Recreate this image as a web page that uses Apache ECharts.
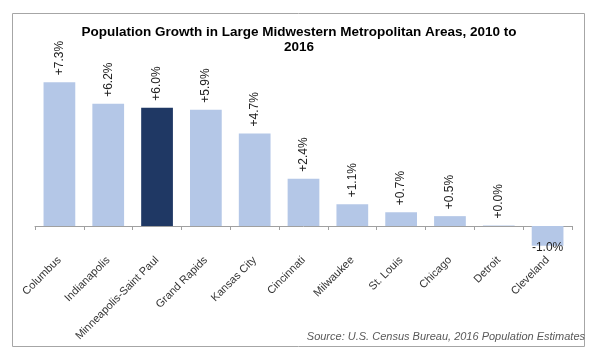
<!DOCTYPE html>
<html>
<head>
<meta charset="utf-8">
<script src="https://cdn.jsdelivr.net/npm/echarts@6/dist/echarts.min.js"></script>
<style>html,body{margin:0;padding:0;background:#fff}#c{width:600px;height:361px}</style>
</head>
<body>
<div id="c"></div>
<script>
const categories = ['Columbus','Indianapolis','Minneapolis-Saint Paul','Grand Rapids','Kansas City','Cincinnati','Milwaukee','St. Louis','Chicago','Detroit','Cleveland'];
const growth = [7.3, 6.2, 6.0, 5.9, 4.7, 2.4, 1.1, 0.7, 0.5, 0.03, -1.0];
const highlight = 'Minneapolis-Saint Paul';
const titleText = 'Population Growth in Large Midwestern Metropolitan Areas, 2010 to\n2016';
const sourceText = 'Source: U.S. Census Bureau, 2016 Population Estimates';

const light = '#b4c7e7', dark = '#1f3864';
const data = growth.map((v, i) => {
  const item = { value: v, itemStyle: { color: categories[i] === highlight ? dark : light } };
  if (v < 0) {
    item.label = { position: 'bottom', rotate: 0, align: 'center', verticalAlign: 'middle', distance: 2 };
  }
  return item;
});

const chart = echarts.init(document.getElementById('c'), null, { renderer: 'canvas' });
chart.setOption({
  animation: false,
  backgroundColor: '#fff',
  title: {
    text: titleText,
    left: 294, top: 20, textAlign: 'center',
    textStyle: { fontFamily: 'Liberation Sans, Arial', fontSize: 13.5, fontWeight: 'bold', color: '#000', lineHeight: 15 }
  },
  graphic: [
    { type: 'rect', shape: { x: 12.5, y: 13.5, width: 572, height: 333 }, style: { fill: 'none', stroke: '#a6a6a6', lineWidth: 1 }, z: -1 },
    { type: 'text', right: 15, top: 331, style: { text: sourceText, font: 'italic 11px "Liberation Sans", Arial', fill: '#595959' } }
  ],
  grid: { left: 35, right: 28, top: 68.4, bottom: 95.6, outerBoundsMode: 'none', containLabel: false },
  xAxis: {
    type: 'category',
    data: categories,
    axisLine: { onZero: true, lineStyle: { color: '#a0a0a0', width: 1 } },
    axisTick: { show: true, length: 4, lineStyle: { color: '#a0a0a0' } },
    axisLabel: { rotate: 45, interval: 0, margin: -7, fontFamily: 'Liberation Sans, Arial', fontSize: 11, color: '#333' }
  },
  yAxis: { type: 'value', min: -2, max: 8, show: false, splitLine: { show: false } },
  series: [{
    type: 'bar',
    data: data,
    barCategoryGap: '35%',
    label: {
      show: true, position: 'top', rotate: 90, align: 'left', verticalAlign: 'middle', distance: 7,
      fontFamily: 'Liberation Sans, Arial', fontSize: 12, color: '#222',
      formatter: p => (p.value >= 0 ? '+' : '') + p.value.toFixed(1) + '%'
    }
  }]
});
</script>
</body>
</html>
